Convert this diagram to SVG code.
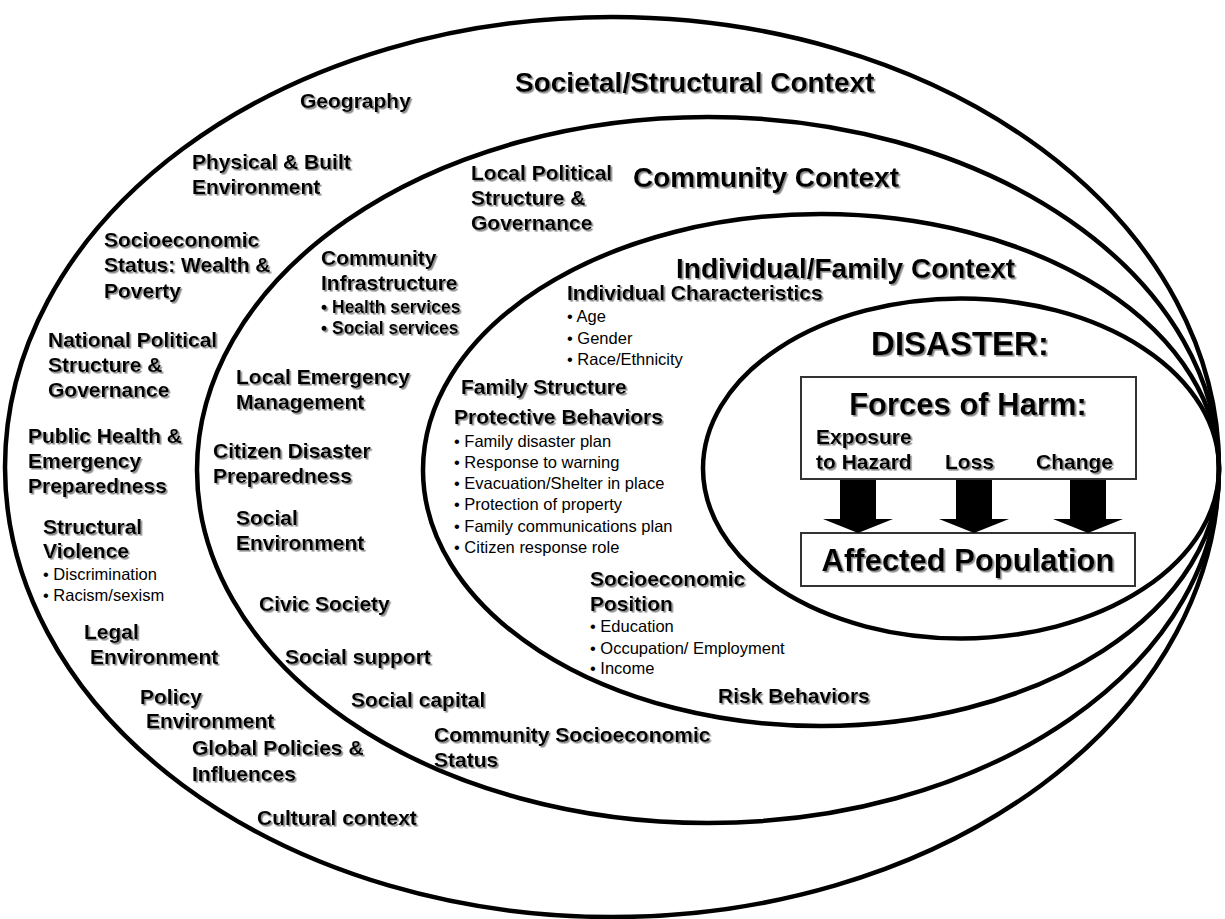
<svg xmlns="http://www.w3.org/2000/svg" width="1225" height="919" viewBox="0 0 1225 919">
<style>
.ring{fill:none;stroke:#000;stroke-width:4.5}
.box{fill:#fff;stroke:#333;stroke-width:2}
text{font-family:"Liberation Sans",Arial,sans-serif;fill:#000}
.b{font-weight:bold;font-size:21px}
.t{font-weight:bold;font-size:28px}
.bb{font-weight:bold;font-size:17.5px}
.n{font-size:16.5px}
.big{font-weight:bold;font-size:31px}
.arr{fill:#000}
</style>
<defs>
<filter id="sh" x="-5%" y="-20%" width="110%" height="140%">
<feDropShadow dx="1.6" dy="1.6" stdDeviation="0.4" flood-color="#8a8a8a" flood-opacity="1"/>
</filter>
</defs>
<rect width="1225" height="919" fill="#fff"/>

<g id="societal">
<ellipse class="ring" cx="612" cy="467" rx="607" ry="450"/>
<g filter="url(#sh)">
<text class="t" x="515" y="92">Societal/Structural Context</text>
<text class="b" x="300" y="108">Geography</text>
<text class="b" x="192" y="169">Physical &amp; Built</text>
<text class="b" x="192" y="194">Environment</text>
<text class="b" x="104" y="247">Socioeconomic</text>
<text class="b" x="104" y="272">Status: Wealth &amp;</text>
<text class="b" x="104" y="298">Poverty</text>
<text class="b" x="48" y="347">National Political</text>
<text class="b" x="48" y="372">Structure &amp;</text>
<text class="b" x="48" y="397">Governance</text>
<text class="b" x="28" y="443">Public Health &amp;</text>
<text class="b" x="28" y="468">Emergency</text>
<text class="b" x="28" y="493">Preparedness</text>
<text class="b" x="43" y="534">Structural</text>
<text class="b" x="43" y="558">Violence</text>
<text class="b" x="84" y="639">Legal</text>
<text class="b" x="90" y="664">Environment</text>
<text class="b" x="140" y="704">Policy</text>
<text class="b" x="146" y="728">Environment</text>
<text class="b" x="192" y="755">Global Policies &amp;</text>
<text class="b" x="192" y="781">Influences</text>
<text class="b" x="257" y="825">Cultural context</text>
</g>
<text class="n" x="43" y="580">• Discrimination</text>
<text class="n" x="43" y="601">• Racism/sexism</text>
</g>

<g id="community">
<ellipse class="ring" cx="708" cy="470" rx="511" ry="353"/>
<g filter="url(#sh)">
<text class="t" x="633" y="187">Community Context</text>
<text class="b" x="471" y="180">Local Political</text>
<text class="b" x="471" y="205">Structure &amp;</text>
<text class="b" x="471" y="230">Governance</text>
<text class="b" x="321" y="265">Community</text>
<text class="b" x="321" y="290">Infrastructure</text>
<text class="bb" x="321" y="313">• Health services</text>
<text class="bb" x="321" y="334">• Social services</text>
<text class="b" x="236" y="384">Local Emergency</text>
<text class="b" x="236" y="409">Management</text>
<text class="b" x="213" y="458">Citizen Disaster</text>
<text class="b" x="213" y="483">Preparedness</text>
<text class="b" x="236" y="525">Social</text>
<text class="b" x="236" y="550">Environment</text>
<text class="b" x="259" y="611">Civic Society</text>
<text class="b" x="285" y="664">Social support</text>
<text class="b" x="351" y="707">Social capital</text>
<text class="b" x="434" y="742">Community Socioeconomic</text>
<text class="b" x="434" y="767">Status</text>
</g>
</g>

<g id="individual">
<ellipse class="ring" cx="821" cy="470" rx="398" ry="256"/>
<g filter="url(#sh)">
<text class="t" x="676" y="278">Individual/Family Context</text>
<text class="b" x="567" y="300">Individual Characteristics</text>
<text class="b" x="461" y="394">Family Structure</text>
<text class="b" x="454" y="424">Protective Behaviors</text>
<text class="b" x="590" y="586">Socioeconomic</text>
<text class="b" x="590" y="611">Position</text>
<text class="b" x="718" y="703">Risk Behaviors</text>
</g>
<text class="n" x="567" y="322">• Age</text>
<text class="n" x="567" y="344">• Gender</text>
<text class="n" x="567" y="365">• Race/Ethnicity</text>
<text class="n" x="454" y="447">• Family disaster plan</text>
<text class="n" x="454" y="468">• Response to warning</text>
<text class="n" x="454" y="489">• Evacuation/Shelter in place</text>
<text class="n" x="454" y="510">• Protection of property</text>
<text class="n" x="454" y="532">• Family communications plan</text>
<text class="n" x="454" y="553">• Citizen response role</text>
<text class="n" x="590" y="632">• Education</text>
<text class="n" x="590" y="654">• Occupation/ Employment</text>
<text class="n" x="590" y="674">• Income</text>
</g>

<g id="disaster">
<ellipse class="ring" cx="961" cy="468.5" rx="258" ry="170"/>
<g filter="url(#sh)">
<text class="big" x="960" y="355" text-anchor="middle" style="font-size:33px">DISASTER:</text>
</g>
</g>

<g id="forces">
<rect class="box" x="801" y="377" width="335" height="102"/>
<g filter="url(#sh)">
<text class="big" x="968" y="415" text-anchor="middle">Forces of Harm:</text>
<text class="b" x="816" y="444">Exposure</text>
<text class="b" x="816" y="469">to Hazard</text>
<text class="b" x="945" y="469">Loss</text>
<text class="b" x="1036" y="469">Change</text>
</g>
</g>

<g id="affected">
<rect class="box" x="801" y="533" width="334" height="53"/>
<g filter="url(#sh)">
<text class="big" x="968" y="571" text-anchor="middle">Affected Population</text>
</g>
</g>

<g id="connectors">
<polygon class="arr" points="840,480 876,480 876,519 893,519 858,533 823,519 840,519"/>
<polygon class="arr" points="956,480 992,480 992,519 1009,519 974,533 939,519 956,519"/>
<polygon class="arr" points="1070,480 1106,480 1106,519 1123,519 1088,533 1053,519 1070,519"/>
</g>
</svg>
